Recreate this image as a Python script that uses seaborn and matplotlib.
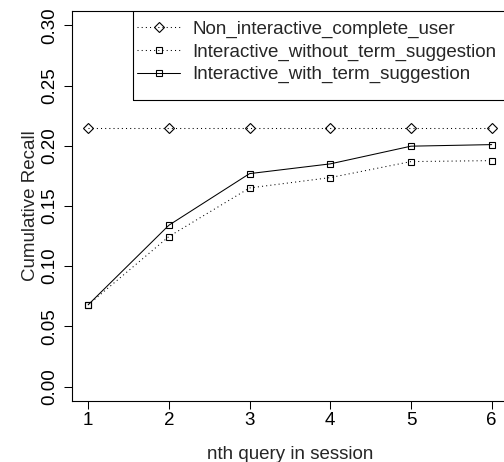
# packages
import matplotlib
matplotlib.use("Agg")
import matplotlib.pyplot as plt
import seaborn as sns
from matplotlib.patches import Rectangle

# data
query_n = [1, 2, 3, 4, 5, 6]
non_interactive = [0.2146, 0.2146, 0.2146, 0.2146, 0.2146, 0.2146]
without_suggestion = [0.0679, 0.1246, 0.1650, 0.1736, 0.1869, 0.1877]
with_suggestion = [0.0679, 0.1340, 0.1769, 0.1850, 0.1997, 0.2010]
series_labels = ["Non_interactive_complete_user",
                 "Interactive_without_term_suggestion",
                 "Interactive_with_term_suggestion"]
y_ticks = [0.00, 0.05, 0.10, 0.15, 0.20, 0.25, 0.30]

sns.set_style("ticks")
plt.rcParams['font.family'] = ['Liberation Sans', 'DejaVu Sans']
fs = 13.5

# figure laid out like the R base plot
figure = plt.figure(figsize=(5.04, 4.62), dpi=100)
axes = figure.add_axes([72 / 504, 1 - 401 / 462, 435.8 / 504, 390 / 462])

common = dict(ax=axes, color="k", linewidth=0.75, markerfacecolor="none",
              markeredgecolor="k", markeredgewidth=0.8)
sns.lineplot(x=query_n, y=non_interactive, linestyle=(0, (1, 3)), marker="D",
             markersize=4.6, label=series_labels[0], **common)
sns.lineplot(x=query_n, y=without_suggestion, linestyle=(0, (1, 3)), marker="s",
             markersize=4.2, label=series_labels[1], **common)
sns.lineplot(x=query_n, y=with_suggestion, linestyle="-", marker="s",
             markersize=4.2, label=series_labels[2], **common)

axes.set_xlim(0.8, 6.2)
axes.set_ylim(-0.012, 0.312)
axes.set_xticks(query_n)
axes.set_xticklabels([str(q) for q in query_n])
axes.set_yticks(y_ticks)
axes.set_yticklabels([f"{t:.2f}" for t in y_ticks], rotation=90, va="center")

for side in ["left", "right", "top", "bottom"]:
    axes.spines[side].set_visible(True)
    axes.spines[side].set_linewidth(0.8)
    axes.spines[side].set_color("k")
axes.tick_params(axis="both", direction="out", length=5.5, width=0.75,
                 colors="k", labelsize=fs)
axes.tick_params(axis="y", pad=4.3)
axes.tick_params(axis="x", pad=2.5)

axes.set_xlabel("nth query in session", fontsize=fs, labelpad=12.3)
axes.set_ylabel("Cumulative Recall", fontsize=fs, labelpad=1.5)

# legend box in the top right corner
axes.add_patch(Rectangle((0.1407, 0.7718), 0.9, 0.3, transform=axes.transAxes,
                         fill=False, edgecolor="k", linewidth=0.8, clip_on=True))
axes.legend(loc="upper left", bbox_to_anchor=(0.1407, 0.985), frameon=False,
            fontsize=fs, borderpad=0.2, borderaxespad=0, handlelength=2.3,
            handletextpad=0.64, labelspacing=0.29)

plt.savefig("out.png", dpi=100)
